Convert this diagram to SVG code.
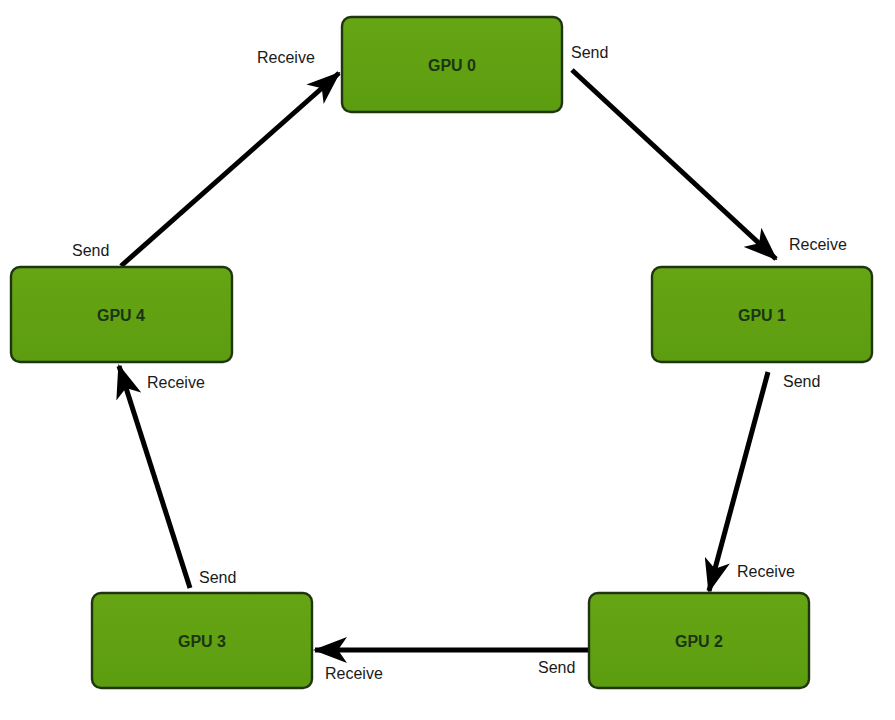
<svg xmlns="http://www.w3.org/2000/svg" width="895" height="720" viewBox="0 0 895 720">
  <defs>
    <marker id="head" viewBox="0 0 34 26" refX="32" refY="13" markerWidth="34" markerHeight="26" markerUnits="userSpaceOnUse" orient="auto">
      <path d="M0,0 L34,13 L0,26 L9,13 Z" fill="#000"/>
    </marker>
    <linearGradient id="boxfill" x1="0" y1="0" x2="0" y2="1">
      <stop offset="0" stop-color="#66a614"/>
      <stop offset="1" stop-color="#5c9c10"/>
    </linearGradient>
  </defs>
  <style>
    .box { fill: url(#boxfill); stroke: #1f3510; stroke-width: 2.4; }
    .name { font-family: "Liberation Sans", Arial, sans-serif; font-weight: bold; font-size: 16px; fill: #1b3512; text-anchor: middle; }
    .lbl { font-family: "Liberation Sans", Arial, sans-serif; font-size: 16px; fill: #1a1a1a; }
    .edge { stroke: #000; stroke-width: 5; fill: none; marker-end: url(#head); }
  </style>
  <rect width="895" height="720" fill="#fff"/>

  <g id="connectors">
    <line class="edge" x1="572" y1="70" x2="776" y2="259"/>
    <line class="edge" x1="768" y1="372" x2="709" y2="591"/>
    <line class="edge" x1="588" y1="650" x2="315" y2="650"/>
    <line class="edge" x1="190" y1="588" x2="119" y2="366"/>
    <line class="edge" x1="121" y1="266" x2="339" y2="73"/>
  </g>

  <g id="gpu0">
    <rect class="box" x="342" y="17" width="220" height="95" rx="9"/>
    <text class="name" x="452" y="71">GPU 0</text>
  </g>
  <g id="gpu1">
    <rect class="box" x="652" y="267" width="220" height="95" rx="9"/>
    <text class="name" x="762" y="321">GPU 1</text>
  </g>
  <g id="gpu2">
    <rect class="box" x="589" y="593" width="220" height="95" rx="9"/>
    <text class="name" x="699" y="647">GPU 2</text>
  </g>
  <g id="gpu3">
    <rect class="box" x="92" y="593" width="220" height="95" rx="9"/>
    <text class="name" x="202" y="647">GPU 3</text>
  </g>
  <g id="gpu4">
    <rect class="box" x="11" y="267" width="221" height="95" rx="9"/>
    <text class="name" x="121" y="321">GPU 4</text>
  </g>

  <g id="labels">
    <text class="lbl" x="257" y="63">Receive</text>
    <text class="lbl" x="571" y="58">Send</text>
    <text class="lbl" x="789" y="250">Receive</text>
    <text class="lbl" x="783" y="387">Send</text>
    <text class="lbl" x="737" y="577">Receive</text>
    <text class="lbl" x="538" y="673">Send</text>
    <text class="lbl" x="325" y="679">Receive</text>
    <text class="lbl" x="199" y="583">Send</text>
    <text class="lbl" x="147" y="388">Receive</text>
    <text class="lbl" x="72" y="256">Send</text>
  </g>
</svg>
